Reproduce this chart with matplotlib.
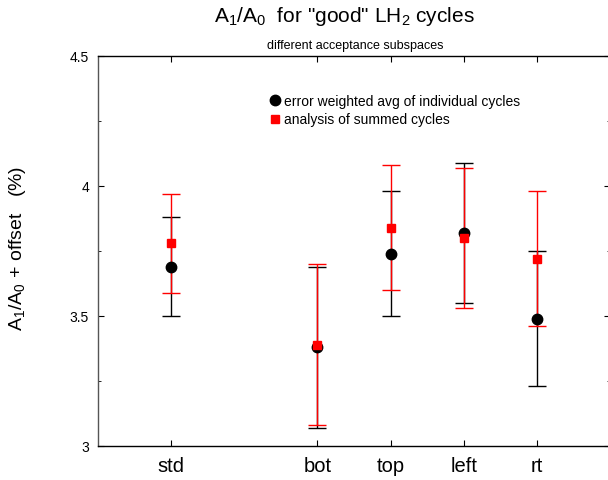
import matplotlib
matplotlib.use("Agg")
import matplotlib.pyplot as plt
from matplotlib.lines import Line2D

plt.rcParams['font.family'] = ['Liberation Sans', 'DejaVu Sans']
plt.rcParams['mathtext.fontset'] = 'custom'
plt.rcParams['mathtext.rm'] = 'Liberation Sans'
plt.rcParams['mathtext.it'] = 'Liberation Sans:italic'
plt.rcParams['mathtext.bf'] = 'Liberation Sans:bold'

categories = ["std", "bot", "top", "left", "rt"]
positions = [1, 3, 4, 5, 6]

avg_vals = [3.69, 3.38, 3.74, 3.82, 3.49]
avg_errs = [0.19, 0.31, 0.24, 0.27, 0.26]

sum_vals = [3.78, 3.39, 3.84, 3.80, 3.72]
sum_errs = [0.19, 0.31, 0.24, 0.27, 0.26]

fig = plt.figure(figsize=(6.08, 4.81), dpi=100)
ax = fig.add_axes([98 / 608, 34 / 481, 512 / 608, 390 / 481])

ax.errorbar(positions, avg_vals, yerr=avg_errs, fmt='o', color='black',
            ecolor='black', elinewidth=1.0, capsize=6.5, capthick=1.0,
            markersize=7.5)
ax.errorbar(positions, sum_vals, yerr=sum_errs, fmt='s', color='red',
            ecolor='red', elinewidth=1.0, capsize=6.5, capthick=1.0,
            markersize=6)

ax.set_xlim(0, 7)
ax.set_ylim(3, 4.5)
ax.set_xticks(positions)
ax.set_xticklabels(categories, fontsize=14.5)
ax.set_yticks([3, 3.5, 4, 4.5])
ax.set_yticklabels(["3", "3.5", "4", "4.5"], fontsize=10)
ax.set_yticks([3.25, 3.75, 4.25], minor=True)
ax.tick_params(axis='both', which='major', direction='in', length=4,
               top=True, right=True)
ax.tick_params(axis='y', which='major', pad=6.5)
ax.tick_params(axis='y', which='minor', direction='in', length=2,
               right=True)
ax.tick_params(axis='x', which='major', pad=7)
for s in ax.spines.values():
    s.set_linewidth(1.0)
ax.spines['left'].set_color('#555555')

fig.text(18 / 608, 0.484, r"A$_1$/A$_0$ + offset   (%)", fontsize=14,
         rotation=90, ha='center', va='center')

fig.text(344 / 608, 1 - 16 / 481, r'A$_1$/A$_0$  for "good" LH$_2$ cycles',
         ha='center', va='center', fontsize=15)
fig.text(355 / 608, 1 - 46 / 481, "different acceptance subspaces",
         ha='center', va='center', fontsize=9)

handles = [
    Line2D([], [], marker='o', linestyle='none', color='black', markersize=7.5),
    Line2D([], [], marker='s', linestyle='none', color='red', markersize=6),
]
labels = ["error weighted avg of individual cycles", "analysis of summed cycles"]
ax.legend(handles, labels, loc='upper left', bbox_to_anchor=(0.332, 0.902),
          frameon=False, fontsize=10, handletextpad=0.15, handlelength=1.0,
          labelspacing=0.3, borderpad=0.0, borderaxespad=0.0)

fig.savefig("out.png", dpi=100)
